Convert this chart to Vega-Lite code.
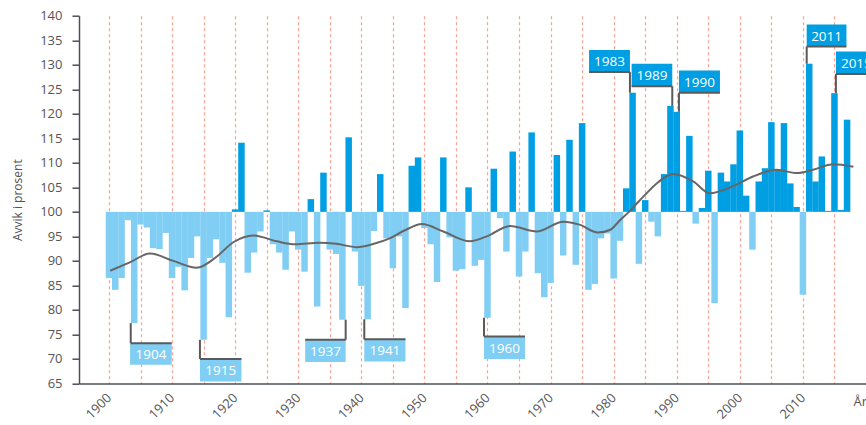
{
  "$schema": "https://vega.github.io/schema/vega-lite/v6.json",
  "width": 787,
  "height": 367.8,
  "autosize": {"type": "none"},
  "padding": {"left": 79, "top": 15.7, "right": 0, "bottom": 41.5},
  "config": {"view": {"stroke": null}, "font": "Open Sans"},
  "datasets": {
    "bars": [
      {"year": 1900, "value": 86.5}, {"year": 1901, "value": 84.1}, {"year": 1902, "value": 86.5}, {"year": 1903, "value": 98.3},
      {"year": 1904, "value": 77.3}, {"year": 1905, "value": 97.4}, {"year": 1906, "value": 96.8}, {"year": 1907, "value": 92.6},
      {"year": 1908, "value": 92.4}, {"year": 1909, "value": 95.7}, {"year": 1910, "value": 86.5}, {"year": 1911, "value": 88.8},
      {"year": 1912, "value": 84.0}, {"year": 1913, "value": 90.6}, {"year": 1914, "value": 95.0}, {"year": 1915, "value": 73.9},
      {"year": 1916, "value": 90.6}, {"year": 1917, "value": 94.4}, {"year": 1918, "value": 89.6}, {"year": 1919, "value": 78.5},
      {"year": 1920, "value": 100.5}, {"year": 1921, "value": 114.1}, {"year": 1922, "value": 87.6}, {"year": 1923, "value": 91.7},
      {"year": 1924, "value": 96.0}, {"year": 1925, "value": 100.3}, {"year": 1926, "value": 93.4}, {"year": 1927, "value": 91.7},
      {"year": 1928, "value": 88.2}, {"year": 1929, "value": 96.0}, {"year": 1930, "value": 92.3}, {"year": 1931, "value": 87.8},
      {"year": 1932, "value": 102.6}, {"year": 1933, "value": 80.7}, {"year": 1934, "value": 108.0}, {"year": 1935, "value": 92.3},
      {"year": 1936, "value": 91.4}, {"year": 1937, "value": 78.0}, {"year": 1938, "value": 115.2}, {"year": 1939, "value": 91.9},
      {"year": 1940, "value": 84.9}, {"year": 1941, "value": 78.1}, {"year": 1942, "value": 96.1}, {"year": 1943, "value": 107.7},
      {"year": 1944, "value": 94.6}, {"year": 1945, "value": 88.5}, {"year": 1946, "value": 95.0}, {"year": 1947, "value": 80.4},
      {"year": 1948, "value": 109.4}, {"year": 1949, "value": 111.1}, {"year": 1950, "value": 96.7}, {"year": 1951, "value": 93.4},
      {"year": 1952, "value": 85.7}, {"year": 1953, "value": 111.1}, {"year": 1954, "value": 94.8}, {"year": 1955, "value": 88.0},
      {"year": 1956, "value": 88.3}, {"year": 1957, "value": 105.0}, {"year": 1958, "value": 89.0}, {"year": 1959, "value": 90.2},
      {"year": 1960, "value": 78.4}, {"year": 1961, "value": 108.8}, {"year": 1962, "value": 98.7}, {"year": 1963, "value": 91.9},
      {"year": 1964, "value": 112.3}, {"year": 1965, "value": 86.8}, {"year": 1966, "value": 91.9}, {"year": 1967, "value": 116.2},
      {"year": 1968, "value": 87.5}, {"year": 1969, "value": 82.6}, {"year": 1970, "value": 85.5}, {"year": 1971, "value": 111.6},
      {"year": 1972, "value": 91.1}, {"year": 1973, "value": 114.7}, {"year": 1974, "value": 89.2}, {"year": 1975, "value": 118.1},
      {"year": 1976, "value": 84.1}, {"year": 1977, "value": 85.3}, {"year": 1978, "value": 94.6}, {"year": 1979, "value": 95.6},
      {"year": 1980, "value": 86.4}, {"year": 1981, "value": 94.1}, {"year": 1982, "value": 104.8}, {"year": 1983, "value": 124.3},
      {"year": 1984, "value": 89.4}, {"year": 1985, "value": 102.4}, {"year": 1986, "value": 98.0}, {"year": 1987, "value": 95.0},
      {"year": 1988, "value": 107.7}, {"year": 1989, "value": 121.6}, {"year": 1990, "value": 120.4}, {"year": 1991, "value": 100.2},
      {"year": 1992, "value": 115.5}, {"year": 1993, "value": 97.6}, {"year": 1994, "value": 100.8}, {"year": 1995, "value": 108.4},
      {"year": 1996, "value": 81.4}, {"year": 1997, "value": 108.0}, {"year": 1998, "value": 106.2}, {"year": 1999, "value": 109.7},
      {"year": 2000, "value": 116.6}, {"year": 2001, "value": 103.3}, {"year": 2002, "value": 92.3}, {"year": 2003, "value": 106.2},
      {"year": 2004, "value": 108.9}, {"year": 2005, "value": 118.3}, {"year": 2006, "value": 108.7}, {"year": 2007, "value": 118.1},
      {"year": 2008, "value": 105.8}, {"year": 2009, "value": 101.0}, {"year": 2010, "value": 83.1}, {"year": 2011, "value": 130.2},
      {"year": 2012, "value": 106.2}, {"year": 2013, "value": 111.3}, {"year": 2014, "value": 100.2}, {"year": 2015, "value": 124.2},
      {"year": 2016, "value": 100.4}, {"year": 2017, "value": 118.8}
    ],
    "trend": [
      {"year": 1900.2, "value": 88.0}, {"year": 1903.3, "value": 89.7}, {"year": 1906.5, "value": 91.5}, {"year": 1910.2, "value": 90.0},
      {"year": 1913.9, "value": 88.6}, {"year": 1917.1, "value": 90.9}, {"year": 1919.7, "value": 93.8}, {"year": 1922.9, "value": 95.2},
      {"year": 1926.6, "value": 94.0}, {"year": 1929.5, "value": 93.4}, {"year": 1933.4, "value": 93.7}, {"year": 1936.0, "value": 93.5},
      {"year": 1939.3, "value": 92.8}, {"year": 1942.0, "value": 93.5}, {"year": 1944.5, "value": 94.6}, {"year": 1947.0, "value": 96.3},
      {"year": 1949.6, "value": 97.5}, {"year": 1953.0, "value": 96.0}, {"year": 1957.2, "value": 94.0}, {"year": 1959.9, "value": 95.0},
      {"year": 1963.6, "value": 97.1}, {"year": 1967.8, "value": 96.0}, {"year": 1972.0, "value": 98.0}, {"year": 1974.6, "value": 97.4},
      {"year": 1977.5, "value": 95.8}, {"year": 1979.4, "value": 96.3}, {"year": 1981.0, "value": 98.3}, {"year": 1982.5, "value": 100.1},
      {"year": 1984.7, "value": 103.1}, {"year": 1987.0, "value": 106.0}, {"year": 1989.4, "value": 107.7}, {"year": 1992.6, "value": 106.2},
      {"year": 1995.2, "value": 103.8}, {"year": 1998.9, "value": 105.2}, {"year": 2002.1, "value": 107.2}, {"year": 2005.8, "value": 108.6},
      {"year": 2009.0, "value": 107.9}, {"year": 2011.6, "value": 108.6}, {"year": 2014.8, "value": 109.7}, {"year": 2018.0, "value": 109.2}
    ],
    "boxes": [
      {"label": "1904", "x1": 1903.35, "x2": 1909.95, "ylo": 68.8, "yhi": 73.2, "xc": 1906.65, "yc": 71.0},
      {"label": "1915", "x1": 1914.42, "x2": 1921.0, "ylo": 65.4, "yhi": 70.0, "xc": 1917.71, "yc": 67.7},
      {"label": "1937", "x1": 1931.1, "x2": 1937.52, "ylo": 69.4, "yhi": 73.9, "xc": 1934.31, "yc": 71.65},
      {"label": "1941", "x1": 1940.47, "x2": 1947.0, "ylo": 69.5, "yhi": 74.0, "xc": 1943.74, "yc": 71.75},
      {"label": "1960", "x1": 1959.45, "x2": 1965.95, "ylo": 70.0, "yhi": 74.6, "xc": 1962.7, "yc": 72.3},
      {"label": "1983", "x1": 1976.1, "x2": 1982.58, "ylo": 128.5, "yhi": 133.0, "xc": 1979.34, "yc": 130.75},
      {"label": "1989", "x1": 1982.85, "x2": 1989.29, "ylo": 125.6, "yhi": 130.2, "xc": 1986.07, "yc": 127.9},
      {"label": "1990", "x1": 1990.35, "x2": 1996.85, "ylo": 124.3, "yhi": 128.8, "xc": 1993.6, "yc": 126.55},
      {"label": "2011", "x1": 2010.6, "x2": 2016.9, "ylo": 133.7, "yhi": 138.2, "xc": 2013.75, "yc": 135.95},
      {"label": "2015", "x1": 2015.23, "x2": 2021.7, "ylo": 128.1, "yhi": 132.7, "xc": 2018.47, "yc": 130.4}
    ],
    "conn": [
      {"x1": 1903.45, "y1": 77.3, "x2": 1903.45, "y2": 73.2}, {"x1": 1903.45, "y1": 73.2, "x2": 1909.95, "y2": 73.2},
      {"x1": 1914.42, "y1": 73.9, "x2": 1914.42, "y2": 70.0}, {"x1": 1914.42, "y1": 70.0, "x2": 1921.0, "y2": 70.0},
      {"x1": 1937.52, "y1": 78.0, "x2": 1937.52, "y2": 73.9}, {"x1": 1931.1, "y1": 73.9, "x2": 1937.52, "y2": 73.9},
      {"x1": 1940.47, "y1": 78.1, "x2": 1940.47, "y2": 74.0}, {"x1": 1940.47, "y1": 74.0, "x2": 1947.0, "y2": 74.0},
      {"x1": 1959.45, "y1": 78.4, "x2": 1959.45, "y2": 74.6}, {"x1": 1959.45, "y1": 74.6, "x2": 1965.95, "y2": 74.6},
      {"x1": 1982.58, "y1": 124.3, "x2": 1982.58, "y2": 128.5}, {"x1": 1976.1, "y1": 128.5, "x2": 1982.58, "y2": 128.5},
      {"x1": 1989.29, "y1": 121.6, "x2": 1989.29, "y2": 125.6}, {"x1": 1982.85, "y1": 125.6, "x2": 1989.29, "y2": 125.6},
      {"x1": 1990.35, "y1": 120.4, "x2": 1990.35, "y2": 124.3}, {"x1": 1990.35, "y1": 124.3, "x2": 1996.85, "y2": 124.3},
      {"x1": 2010.6, "y1": 130.2, "x2": 2010.6, "y2": 133.7}, {"x1": 2010.6, "y1": 133.7, "x2": 2016.9, "y2": 133.7},
      {"x1": 2015.23, "y1": 124.2, "x2": 2015.23, "y2": 128.1}, {"x1": 2015.23, "y1": 128.1, "x2": 2021.7, "y2": 128.1}
    ]
  },
  "layer": [
    {
      "data": {"name": "bars"},
      "mark": {"type": "bar", "width": 6.5},
      "encoding": {
        "x": {
          "field": "year", "type": "quantitative",
          "scale": {"domain": [1895.25, 2020], "nice": false, "zero": false, "padding": 0},
          "axis": {
            "values": [1900, 1905, 1910, 1915, 1920, 1925, 1930, 1935, 1940, 1945, 1950, 1955, 1960, 1965, 1970, 1975, 1980, 1985, 1990, 1995, 2000, 2005, 2010, 2015],
            "tickCount": 40,
            "format": "d",
            "labelExpr": "datum.value % 10 === 0 ? datum.label : ''",
            "labelAngle": -45, "labelAlign": "right", "labelBaseline": "middle",
            "labelPadding": 12, "labelFontSize": 13, "labelColor": "#555555", "labelOverlap": false,
            "ticks": false,
            "grid": true, "gridDash": [3, 3], "gridColor": "#F4A396", "gridWidth": 1.2,
            "domainColor": "#4a4f59", "domainWidth": 1.5,
            "title": "År", "titleAngle": 0, "titleAlign": "left", "titleBaseline": "alphabetic",
            "titleX": 774, "titleY": 21.5, "titleFontSize": 13, "titleFontWeight": "normal", "titleColor": "#555555"
          }
        },
        "y": {
          "field": "value", "type": "quantitative",
          "scale": {"domain": [65, 140], "nice": false, "zero": false},
          "axis": {
            "values": [65, 70, 75, 80, 85, 90, 95, 100, 105, 110, 115, 120, 125, 130, 135, 140],
            "tickCount": 30,
            "grid": false, "tickSize": 7, "tickColor": "#4a4f59", "tickWidth": 1.5,
            "domainColor": "#4a4f59", "domainWidth": 1.5,
            "labelPadding": 10, "labelFontSize": 13, "labelColor": "#555555", "labelOverlap": false,
            "title": "Avvik i prosent", "titleFontSize": 12, "titleFontWeight": "normal", "titleColor": "#555555",
            "titleAngle": -90, "titleX": -62, "titleY": 184, "titleAlign": "center", "titleBaseline": "middle"
          }
        },
        "y2": {"datum": 100},
        "color": {"condition": {"test": "datum.value >= 100", "value": "#009FE3"}, "value": "#80CEF4"}
      }
    },
    {
      "data": {"name": "trend"},
      "mark": {"type": "line", "interpolate": "monotone", "color": "#666666", "strokeWidth": 2},
      "encoding": {
        "x": {"field": "year", "type": "quantitative"},
        "y": {"field": "value", "type": "quantitative"}
      }
    },
    {
      "data": {"name": "boxes"},
      "mark": {"type": "rect"},
      "encoding": {
        "x": {"field": "x1", "type": "quantitative"},
        "x2": {"field": "x2"},
        "y": {"field": "ylo", "type": "quantitative"},
        "y2": {"field": "yhi"},
        "color": {"condition": {"test": "datum.yhi > 100", "value": "#009FE3"}, "value": "#80CEF4"}
      }
    },
    {
      "data": {"name": "conn"},
      "mark": {"type": "rule", "color": "#5a5a5a", "strokeWidth": 2},
      "encoding": {
        "x": {"field": "x1", "type": "quantitative"},
        "x2": {"field": "x2"},
        "y": {"field": "y1", "type": "quantitative"},
        "y2": {"field": "y2"}
      }
    },
    {
      "data": {"name": "boxes"},
      "mark": {"type": "text", "color": "white", "fontSize": 13.5, "align": "center", "baseline": "middle", "dy": 1},
      "encoding": {
        "x": {"field": "xc", "type": "quantitative"},
        "y": {"field": "yc", "type": "quantitative"},
        "text": {"field": "label"}
      }
    }
  ]
}
